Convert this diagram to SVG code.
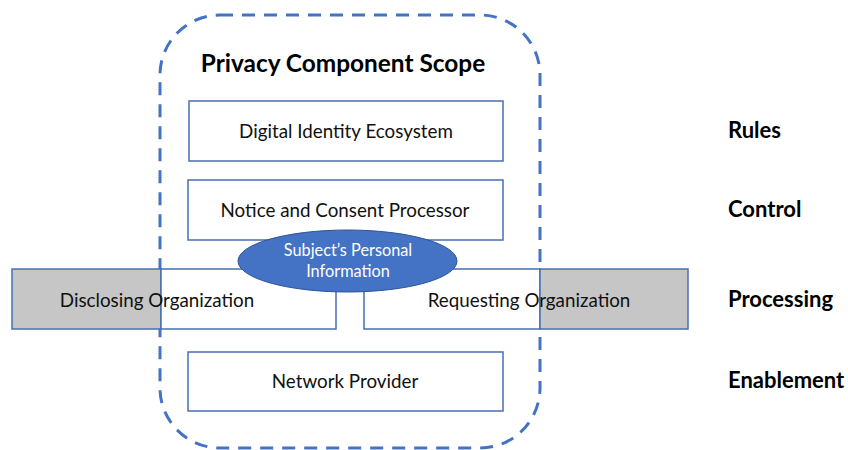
<svg xmlns="http://www.w3.org/2000/svg" width="848" height="450" viewBox="0 0 848 450">
  <style>
    .box { fill: #ffffff; stroke: #4a6eb0; stroke-width: 1.5; }
    .shade { fill: #c6c6c6; stroke: #4a6eb0; stroke-width: 1.5; }
    .scope { fill: none; stroke: #4472c4; stroke-width: 3; stroke-dasharray: 13 9; }
    .lbl { font-family: Lato, "Open Sans", "Liberation Sans", sans-serif; font-size: 18.8px; fill: #111111; text-anchor: middle; }
    .layer { font-family: Lato, "Open Sans", "Liberation Sans", sans-serif; font-size: 22px; font-weight: bold; fill: #000000; }
    .title { font-family: Lato, "Open Sans", "Liberation Sans", sans-serif; font-size: 24.4px; font-weight: bold; fill: #000000; text-anchor: middle; }
    .blob { fill: #4472c4; stroke: #2f5597; stroke-width: 1; }
    .blobtxt { font-family: Lato, "Open Sans", "Liberation Sans", sans-serif; font-size: 16.3px; fill: #ffffff; text-anchor: middle; }
  </style>

  <!-- scope boundary -->
  <g id="scope">
    <rect class="scope" x="160" y="15" width="380" height="433" rx="60" ry="60"/>
    <text class="title" x="343" y="72">Privacy Component Scope</text>
  </g>

  <g id="digital-identity">
    <rect class="box" x="189" y="101" width="314" height="60"/>
    <text class="lbl" x="346" y="138">Digital Identity Ecosystem</text>
  </g>

  <g id="notice-consent">
    <rect class="box" x="188" y="180" width="315" height="60"/>
    <text class="lbl" x="345" y="217">Notice and Consent Processor</text>
  </g>

  <g id="disclosing-org">
    <rect class="shade" x="12" y="269" width="149" height="60"/>
    <rect class="box" x="161" y="269" width="175" height="60"/>
    <text class="lbl" x="157" y="307">Disclosing Organization</text>
  </g>

  <g id="requesting-org">
    <rect class="box" x="364" y="269" width="176" height="60"/>
    <rect class="shade" x="540" y="269" width="148" height="60"/>
    <text class="lbl" x="529" y="307">Requesting Organization</text>
  </g>

  <g id="network-provider">
    <rect class="box" x="188" y="352" width="315" height="59"/>
    <text class="lbl" x="345" y="388">Network Provider</text>
  </g>

  <g id="personal-info">
    <ellipse class="blob" cx="347.5" cy="261" rx="109.5" ry="31"/>
    <text class="blobtxt" x="348" y="256">Subject’s Personal</text>
    <text class="blobtxt" x="348" y="277">Information</text>
  </g>

  <!-- layer names -->
  <g id="layers">
    <text class="layer" x="728" y="138">Rules</text>
    <text class="layer" x="728" y="217">Control</text>
    <text class="layer" x="728" y="307">Processing</text>
    <text class="layer" x="728" y="388">Enablement</text>
  </g>

  <g id="connectors"></g>
</svg>
